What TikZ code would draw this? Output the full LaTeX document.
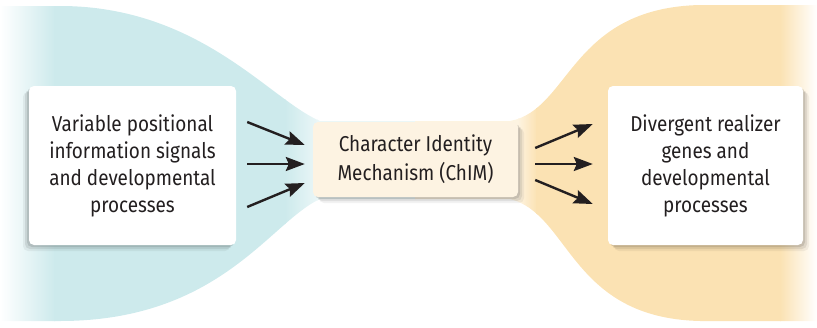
\documentclass[tikz,border=0pt]{standalone}
\usepackage{fontspec}
\setmainfont{Fira Sans}[FakeStretch=0.88]
\usetikzlibrary{arrows.meta,shadows}

\definecolor{funnelblue}{HTML}{CDEAEC}
\definecolor{funnelorange}{HTML}{FBE2B3}
\definecolor{chimfill}{HTML}{FDF3E2}
\definecolor{inkgray}{HTML}{231F20}
\newcommand\boxfont{\fontsize{21.5}{27}\selectfont}

\tikzset{
  softshadow/.style={drop shadow={shadow xshift=#1*2pt, shadow yshift=-2pt, opacity=.10, fill=black},
                     drop shadow={shadow xshift=#1*4pt, shadow yshift=-4pt, opacity=.08, fill=black},
                     drop shadow={shadow xshift=#1*6pt, shadow yshift=-6pt, opacity=.05, fill=black}},
  whitebox/.style={fill=white, rounded corners=5pt, minimum width=207pt, minimum height=159pt,
                   inner sep=0pt, align=center, font=\boxfont, text=inkgray},
  chimbox/.style={whitebox, fill=chimfill, minimum width=205pt, minimum height=75pt},
  flowarrow/.style={line width=2.4pt, inkgray, -{Stealth[length=19pt,width=14pt,inset=3pt]}}
}

\begin{document}
\begin{tikzpicture}[x=1pt,y=-1pt]
      \useasboundingbox (0,0) rectangle (817,327);

      % blue funnel, fading out to the left
      \begin{scope}
        \clip (0,6) -- (60,6) .. controls (200,6) and (270,100) .. (320,121) -- (416,121)
              -- (416,199) -- (320,199) .. controls (270,222) and (220,321) .. (60,321) -- (0,321) -- cycle;
        \shade[left color=white, right color=funnelblue] (0,0) rectangle (55,327);
        \fill[funnelblue] (54,0) rectangle (286,327);
        \shade[left color=funnelblue, right color=funnelblue!40] (285,0) rectangle (318,327);
        \fill[funnelblue!40] (317,0) rectangle (416,327);
      \end{scope}

      % orange funnel, fading out to the right
      \begin{scope}
        \clip (817,5) -- (700,5) .. controls (570,8) and (570,110) .. (510,121) -- (415,121)
              -- (415,199) -- (510,199) .. controls (570,214) and (570,318) .. (700,321) -- (817,321) -- cycle;
        \fill[funnelorange!40] (415,0) rectangle (519,327);
        \shade[left color=funnelorange!40, right color=funnelorange] (518,0) rectangle (537,327);
        \fill[funnelorange] (536,0) rectangle (781,327);
        \shade[left color=funnelorange, right color=white] (780,0) rectangle (817,327);
      \end{scope}

      \node[whitebox, softshadow=-1] (varbox) at (132.5,165.5)
        {Variable positional\\information signals\\and developmental\\processes};
      \node[chimbox, softshadow=1] (chim) at (415.5,159.5)
        {Character Identity\\[2pt]Mechanism (ChIM)};
      \node[whitebox, minimum width=195pt, softshadow=1] (realbox) at (705.5,165.5)
        {Divergent realizer\\genes and\\developmental\\processes};

      \foreach \ta/\hb in {43.5/14.5, 1.5/-4.5, -41.5/-23.5}
      {\draw[flowarrow] ([xshift=11pt,yshift=\ta pt]varbox.east) -- ([xshift=-8pt,yshift=\hb pt]chim.west);
      };
      \foreach \ta/\hb in {11.5/41.5, -4.5/1.5, -20.5/-38.5}
      {\draw[flowarrow] ([xshift=17pt,yshift=\ta pt]chim.east) -- ([xshift=-15pt,yshift=\hb pt]realbox.west);
      };
    \end{tikzpicture}
\end{document}
